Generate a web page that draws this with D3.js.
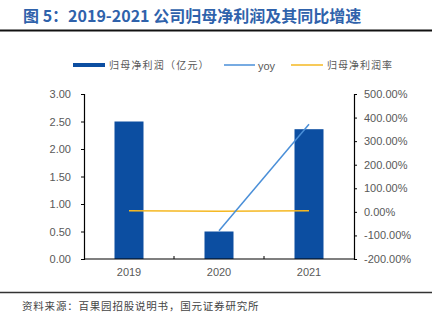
<!DOCTYPE html>
<html><head><meta charset="utf-8">
<script src="https://cdn.jsdelivr.net/npm/d3@7/dist/d3.min.js"></script>
<style>body{margin:0;background:#fff}svg{display:block}</style>
</head><body>
<svg id="c" width="438" height="329"></svg>
<script>
const categories = ["2019","2020","2021"];
const netProfit = [2.50, 0.50, 2.36];
const yoy = [null, -80, 372];
const netMargin = [5, 2.5, 4.5];
const leftTicks = [0,0.5,1,1.5,2,2.5,3];
const rightTicks = [-200,-100,0,100,200,300,400,500];

const svg = d3.select("#c");
const cjk = "'Noto Sans CJK SC', sans-serif";
const latin = "'Liberation Sans', Arial, sans-serif";
const gray = "#595959";

// Title
svg.append("text").attr("x",23).attr("y",22)
  .attr("font-family",cjk).attr("font-weight","bold").attr("font-size",16)
  .attr("fill","#2f62ab").text("图 5：2019-2021 公司归母净利润及其同比增速");
svg.append("line").attr("x1",0).attr("x2",432).attr("y1",30.5).attr("y2",30.5)
  .attr("stroke","#111").attr("stroke-width",2);
svg.append("line").attr("x1",0).attr("x2",432).attr("y1",292.5).attr("y2",292.5)
  .attr("stroke","#333").attr("stroke-width",1.5);
svg.append("text").attr("x",22).attr("y",310)
  .attr("font-family",cjk).attr("font-size",10.5).attr("letter-spacing",0.8).attr("fill","#444")
  .text("资料来源：百果园招股说明书，国元证券研究所");

const L=84, R=354, T=94, B=259;
const x = d3.scaleBand().domain(categories).range([L,R]);
const yL = d3.scaleLinear().domain([0,3]).range([B,T]);
const yR = d3.scaleLinear().domain([-200,500]).range([B,T]);

// bars
svg.append("g").selectAll("rect").data(categories).join("rect")
  .attr("x",d=>x(d)+x.bandwidth()/2-14.5).attr("width",29)
  .attr("y",(d,i)=>yL(netProfit[i])).attr("height",(d,i)=>B-yL(netProfit[i]))
  .attr("fill","#0c4ea1");

// left axis
const gl = svg.append("g").attr("transform",`translate(${L},0)`)
  .call(d3.axisLeft(yL).tickValues(leftTicks).tickFormat(d3.format(".2f")).tickSize(3).tickPadding(10));
// right axis
const gr = svg.append("g").attr("transform",`translate(${R},0)`)
  .call(d3.axisLeft(yR).tickValues(rightTicks).tickFormat(d=>d.toFixed(2)+"%").tickSize(-3).tickPadding(-10));
gr.selectAll("text").attr("text-anchor","start");
// bottom axis
const gb = svg.append("g").attr("transform",`translate(0,${B})`)
  .call(d3.axisBottom(x).tickSize(0).tickPadding(9));
[gl,gr,gb].forEach(g=>{
  g.select(".domain").attr("stroke","#000").attr("stroke-width",1.2);
  g.selectAll(".tick line").attr("stroke","#000");
  g.selectAll("text").attr("font-family",latin).attr("font-size",11).attr("fill",gray);
});
gb.select(".domain").attr("d",`M${L},0H${R}`);
// category boundary ticks
svg.append("g").selectAll("line").data(categories.slice(1)).join("line")
  .attr("x1",d=>x(d)).attr("x2",d=>x(d)).attr("y1",B).attr("y2",B-3).attr("stroke","#000");

// lines
const cx = d=>x(d)+x.bandwidth()/2;
const ln = d3.line().defined(d=>d[1]!=null).x(d=>cx(d[0])).y(d=>yR(d[1]));
svg.append("path").attr("d",ln(categories.map((c,i)=>[c,netMargin[i]])))
  .attr("fill","none").attr("stroke","#f5b822").attr("stroke-width",1.5);
svg.append("path").attr("d",ln(categories.map((c,i)=>[c,yoy[i]])))
  .attr("fill","none").attr("stroke","#4a8fd8").attr("stroke-width",1.5);

// legend
const lg = svg.append("g");
lg.append("rect").attr("x",73).attr("y",63).attr("width",32).attr("height",4).attr("fill","#0c4ea1");
lg.append("text").attr("x",109).attr("y",69).attr("font-family",cjk).attr("font-size",10).attr("letter-spacing",1.2).attr("fill",gray).text("归母净利润（亿元）");
lg.append("line").attr("x1",224).attr("x2",255).attr("y1",65).attr("y2",65).attr("stroke","#4a8fd8").attr("stroke-width",1.5);
lg.append("text").attr("x",258).attr("y",70).attr("font-family",latin).attr("font-size",11).attr("fill",gray).text("yoy");
lg.append("line").attr("x1",291).attr("x2",323).attr("y1",65).attr("y2",65).attr("stroke","#f5b822").attr("stroke-width",1.5);
lg.append("text").attr("x",327).attr("y",69).attr("font-family",cjk).attr("font-size",10).attr("letter-spacing",1).attr("fill",gray).text("归母净利润率");
</script>
</body></html>
